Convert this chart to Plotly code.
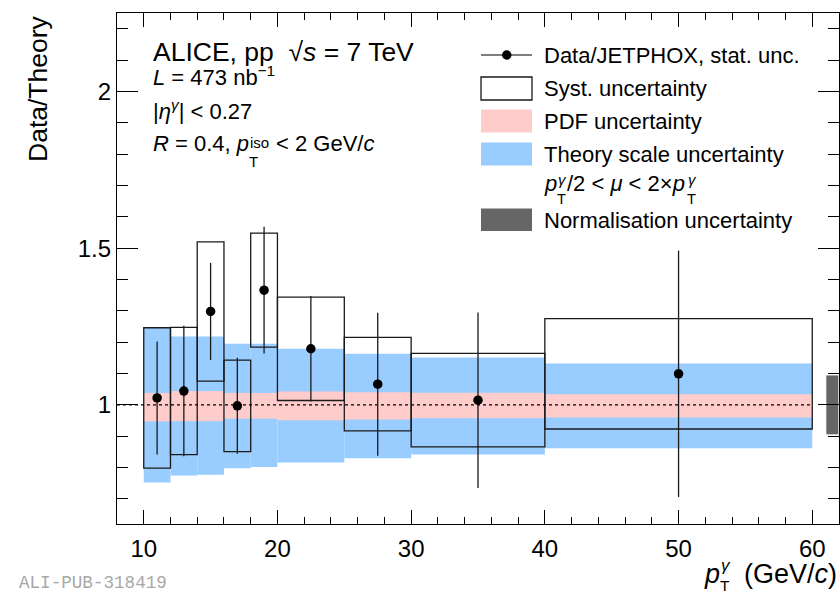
import plotly.graph_objects as go

# ---------------- data ----------------
BIN_LO = [10, 12, 14, 16, 18, 20, 25, 30, 40]
BIN_HI = [12, 14, 16, 18, 20, 25, 30, 40, 60]
RATIO = [1.022, 1.044, 1.298, 0.997, 1.366, 1.179, 1.066, 1.015, 1.099]
STAT = [0.180, 0.208, 0.155, 0.153, 0.202, 0.168, 0.228, 0.280, 0.393]
SYST = [0.224, 0.203, 0.222, 0.146, 0.182, 0.165, 0.149, 0.149, 0.176]
SCALE_LO = [0.752, 0.775, 0.777, 0.798, 0.802, 0.816, 0.830, 0.842, 0.862]
SCALE_HI = [1.246, 1.218, 1.218, 1.195, 1.195, 1.179, 1.163, 1.151, 1.132]
PDF_LO = [0.947, 0.948, 0.948, 0.956, 0.956, 0.951, 0.953, 0.957, 0.960]
PDF_HI = [1.038, 1.044, 1.044, 1.038, 1.038, 1.043, 1.040, 1.039, 1.034]
NORM_UNC = 0.094
NORM_X = [61.5]
NORM_W = [0.9]
REF_X = [8, 60]
REF_Y = [1, 1]
X_RANGE = [8, 62]
Y_RANGE = [0.62, 2.25]

centers = [(a + b) / 2 for a, b in zip(BIN_LO, BIN_HI)]
widths = [b - a for a, b in zip(BIN_LO, BIN_HI)]

FONT = "Liberation Sans"
BLUE = "#99ccff"
PINK = "#ffcccc"
GREY = "#666666"
LINE = "#1a1a1a"
NB = "\u00a0"

fig = go.Figure()
fig.add_trace(go.Bar(x=centers, width=widths, base=SCALE_LO,
                     y=[h - l for h, l in zip(SCALE_HI, SCALE_LO)],
                     marker=dict(color=BLUE, line=dict(width=0)),
                     showlegend=False, hoverinfo="skip"))
fig.add_trace(go.Bar(x=centers, width=widths, base=PDF_LO,
                     y=[h - l for h, l in zip(PDF_HI, PDF_LO)],
                     marker=dict(color=PINK, line=dict(width=0)),
                     showlegend=False, hoverinfo="skip"))
fig.add_trace(go.Bar(x=centers, width=widths,
                     base=[r - s for r, s in zip(RATIO, SYST)],
                     y=[2 * s for s in SYST],
                     marker=dict(color="rgba(0,0,0,0)", line=dict(width=1.3, color=LINE)),
                     showlegend=False, hoverinfo="skip"))
fig.add_trace(go.Bar(x=NORM_X, width=NORM_W, base=[1 - NORM_UNC], y=[2 * NORM_UNC],
                     marker=dict(color=GREY, line=dict(width=0)),
                     showlegend=False, hoverinfo="skip"))
fig.add_trace(go.Scatter(x=REF_X, y=REF_Y, mode="lines",
                         line=dict(color="black", width=1.1, dash="dot"),
                         showlegend=False, hoverinfo="skip"))
fig.add_trace(go.Scatter(x=centers, y=RATIO, mode="markers",
                         marker=dict(color="black", size=9.5),
                         error_y=dict(type="data", array=STAT, visible=True,
                                      width=0, thickness=1.3, color=LINE),
                         showlegend=False))

# ---------------- layout helpers (pixel -> paper) ----------------
PL, PT, PW, PH = 117, 13, 722, 511


def px(x):
    return (x - PL) / PW


def py(y):
    return (PT + PH - y) / PH


ann = []


def text(t, x, y, size, xanchor="left", yanchor="bottom", color="black", family=FONT, angle=0):
    ann.append(dict(text=t, x=px(x), y=py(y), xref="paper", yref="paper",
                    xanchor=xanchor, yanchor=yanchor, showarrow=False, borderpad=0,
                    textangle=angle, font=dict(family=family, size=size, color=color)))


def base_line(t, x, baseline, size, **kw):
    # place text so that its baseline sits at the given pixel row
    text(t, x, baseline + 0.212 * size, size, **kw)


# info text
IX = 152
base_line("ALICE, pp" + NB + NB + "√<i>s</i> = 7 TeV", IX, 62, 26.5)
base_line("<i>L</i> = 473 nb<sup>−1</sup>", IX, 86, 22)
base_line("|<i>η</i><sup><i>γ</i></sup>| < 0.27", IX, 120.5, 22)
base_line("<i>R</i> = 0.4, <i>p</i>", IX, 152, 22)
p_end = IX + (3.808 + 0.556) * 22
text("iso", p_end + 0.5, 142, 15, yanchor="middle")
text("T", p_end, 161, 15, yanchor="middle")
base_line("< 2 GeV/<i>c</i>", p_end + 0.7 * 22 * 1.278 + 7, 152, 22)

# legend
LS = 22
LX = 543
shapes = []


def rect(x0, y0, x1, y1, fill, line_color=None, lw=0):
    shapes.append(dict(type="rect", xref="paper", yref="paper",
                       x0=px(x0), x1=px(x1), y0=py(y1), y1=py(y0),
                       fillcolor=fill, line=dict(color=line_color or fill, width=lw)))


shapes.append(dict(type="line", xref="paper", yref="paper", x0=px(481), x1=px(532),
                   y0=py(55), y1=py(55), line=dict(color="black", width=1.2)))
shapes.append(dict(type="circle", xref="paper", yref="paper", x0=px(502), x1=px(511.5),
                   y0=py(59.75), y1=py(50.25), fillcolor="black", line=dict(width=0)))
rect(481, 77, 532, 100, "white", LINE, 1.3)
rect(481, 109.5, 532, 132.5, PINK)
rect(481, 142.5, 532, 165.5, BLUE)
rect(481, 208.5, 532, 231, GREY)

text("Data/JETPHOX, stat. unc.", LX, 55, LS, yanchor="middle")
text("Syst. uncertainty", LX, 88.5, LS, yanchor="middle")
text("PDF uncertainty", LX, 121, LS, yanchor="middle")
text("Theory scale uncertainty", LX, 154, LS, yanchor="middle")
R5 = 192.5
base_line("<i>p</i>", LX, R5, LS)
s1 = LX + 0.556 * LS + 1
text("<i>γ</i>", s1 + 0.5, 179, 15, yanchor="middle")
text("T", s1, 199, 14.5, yanchor="middle")
rest_x = s1 + 0.611 * 15 + 1
base_line("/2 < <i>μ</i> < 2×<i>p</i>", rest_x, R5, LS)
s2 = rest_x + 5.386 * LS + 1.5
text("<i>γ</i>", s2 + 0.5, 179, 15, yanchor="middle")
text("T", s2, 199, 14.5, yanchor="middle")
text("Normalisation uncertainty", LX, 220, LS, yanchor="middle")

# axis titles
text("Data/Theory", 37.5, 14, 26.5, xanchor="center", yanchor="top", angle=-90)
XT = 703
base_line("<i>p</i>", XT, 584, 27)
text("<i>γ</i>", XT + 0.556 * 27 + 1.5, 566, 17, yanchor="middle")
text("T", XT + 0.556 * 27 + 1, 585, 15.5, yanchor="middle")
base_line("(GeV/<i>c</i>)", 838, 584, 27, xanchor="right")

# watermark
text("ALI-PUB-318419", 18, 583, 17.6, yanchor="middle", color="#a8a8a8", family="Liberation Mono")

axis_common = dict(showline=True, linecolor="black", linewidth=1.2, mirror="ticks",
                   ticks="inside", tickcolor="black", tickwidth=1.2, showgrid=False,
                   zeroline=False, automargin=False,
                   tickfont=dict(family=FONT, size=24, color="black"))

fig.update_layout(
    width=840, height=594,
    margin=dict(l=PL, r=840 - PL - PW, t=PT, b=594 - PT - PH, autoexpand=False),
    paper_bgcolor="white", plot_bgcolor="white",
    barmode="overlay", showlegend=False,
    xaxis=dict(range=X_RANGE, tick0=0, dtick=10, ticklen=14, ticklabelstandoff=3,
               minor=dict(ticks="inside", ticklen=7, dtick=2, tickcolor="black", tickwidth=1.2),
               **axis_common),
    yaxis=dict(range=Y_RANGE, tick0=0, dtick=0.5, ticklen=21,
               minor=dict(ticks="inside", ticklen=11, dtick=0.1, tickcolor="black", tickwidth=1.2),
               **axis_common),
    annotations=ann, shapes=shapes,
)

fig.write_html("out.html", config={"displayModeBar": False},
               post_script="document.body.style.margin='0';")
